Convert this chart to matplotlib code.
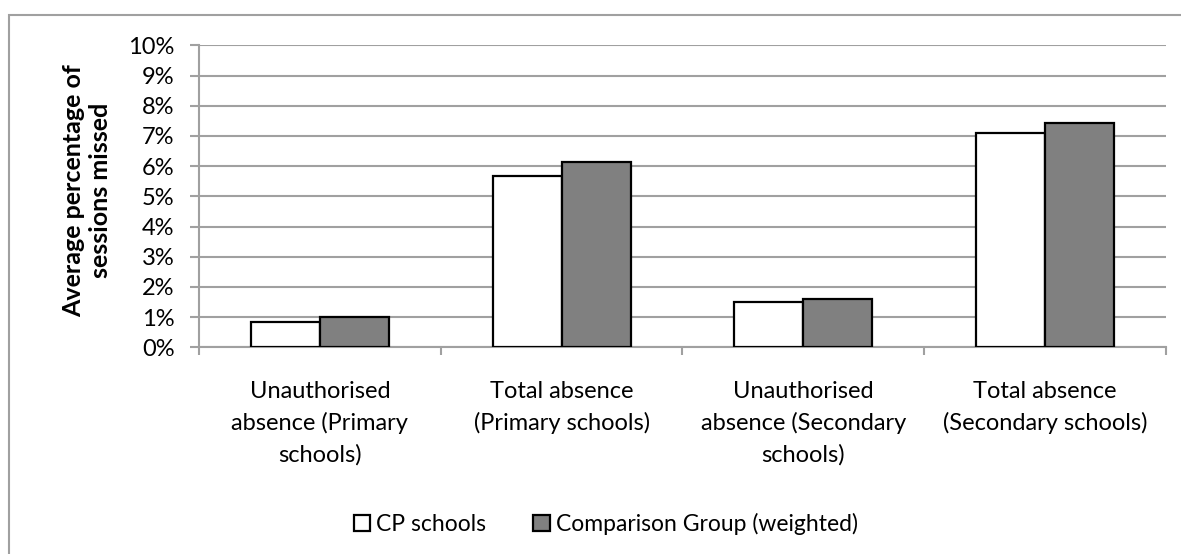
import matplotlib.pyplot as plt
import matplotlib.patches as mpatches
from matplotlib.ticker import FuncFormatter, MultipleLocator
import numpy as np

plt.rcParams['font.family'] = ['Lato', 'DejaVu Sans']

categories = ['Unauthorised\nabsence (Primary\nschools)',
              'Total absence\n(Primary schools)',
              'Unauthorised\nabsence (Secondary\nschools)',
              'Total absence\n(Secondary schools)']
cp_schools = [0.85, 5.67, 1.49, 7.11]
comparison = [1.01, 6.15, 1.59, 7.42]
series_names = ['CP schools', 'Comparison Group (weighted)']

grid_col = '#a0a0a0'
fs = 17

fig = plt.figure(figsize=(11.81, 5.54), dpi=100)
ax = fig.add_axes([0.1685, 0.3731, 0.8188, 0.5451])

x = np.arange(len(categories))
w = 0.285
ax.bar(x - w/2, cp_schools, w, color='white', edgecolor='black', linewidth=1.6, zorder=3)
ax.bar(x + w/2, comparison, w, color='#808080', edgecolor='black', linewidth=1.6, zorder=3)

ax.set_xlim(-0.5, len(categories) - 0.5)
ax.set_ylim(0, 10)
ax.yaxis.set_major_locator(MultipleLocator(1))
ax.yaxis.set_major_formatter(FuncFormatter(lambda v, p: f'{v:.0f}%'))
ax.grid(axis='y', color=grid_col, linewidth=1.5, zorder=0)

ax.set_xticks(x)
ax.set_xticklabels(categories, fontsize=fs, linespacing=1.58)
ax.set_xticks(np.arange(len(categories) + 1) - 0.5, minor=True)
ax.tick_params(axis='x', which='major', length=0, pad=24)
ax.tick_params(axis='x', which='minor', length=6, width=1.5, color=grid_col)
ax.tick_params(axis='y', length=6.5, width=1.5, color=grid_col, labelsize=17, pad=11)

for s in ['top', 'right']:
    ax.spines[s].set_visible(False)
for s in ['left', 'bottom']:
    ax.spines[s].set_color(grid_col)
    ax.spines[s].set_linewidth(1.5)

ax.set_ylabel('Average percentage of\nsessions missed', fontsize=18, fontweight='bold',
              linespacing=1.2)
ax.yaxis.set_label_coords(-0.09, 0.52)

handles = [mpatches.Patch(facecolor='white', edgecolor='black', linewidth=1.6),
           mpatches.Patch(facecolor='#808080', edgecolor='black', linewidth=1.6)]
fig.legend(handles, series_names, loc='center', bbox_to_anchor=(0.513, 0.054),
           ncol=2, frameon=False, fontsize=16.5, handlelength=0.72, handleheight=0.72,
           handletextpad=0.27, columnspacing=2.05)

# outer chart border
fig.patches.append(mpatches.Rectangle((9/1181, -0.1), 1.2, 1 - 15/554 + 0.1,
                                      transform=fig.transFigure, fill=False,
                                      edgecolor=grid_col, linewidth=1.5))

fig.savefig('out.png', dpi=100)
